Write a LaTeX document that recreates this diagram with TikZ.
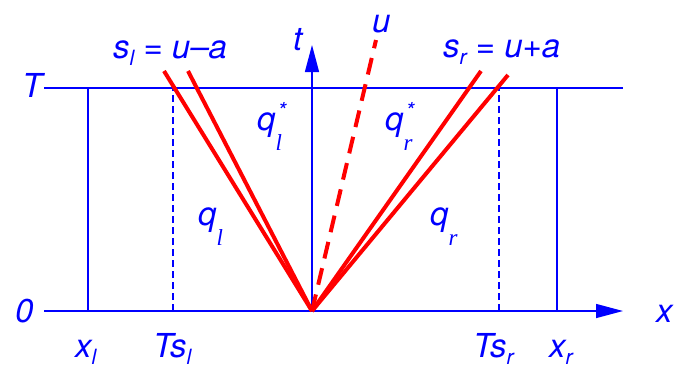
\documentclass[tikz,border=0pt]{standalone}
\usepackage{fontspec}
\setmainfont{TeX Gyre Heros}
\newfontfamily\serfont{Liberation Serif}
\usetikzlibrary{arrows.meta}
\definecolor{lblue}{RGB}{0,0,255}
\definecolor{lred}{RGB}{255,0,0}
\newcommand{\sbs}[1]{\raisebox{-7pt}{\fontsize{21}{22}\selectfont\itshape #1}}
\newcommand{\qsb}[1]{\raisebox{-20pt}{\fontsize{23}{24}\selectfont\serfont\itshape #1}}
\newcommand{\qsbst}[1]{\rlap{\hspace{2pt}\raisebox{12pt}{\fontsize{22}{24}\selectfont *}}\raisebox{-20pt}{\fontsize{23}{24}\selectfont\serfont\itshape #1}}
\begin{document}
\begin{tikzpicture}[x=1pt,y=-1pt,
  axisline/.style={lblue, line width=1.4pt},
  boxline/.style={lblue, line width=1.2pt},
  dashv/.style={lblue, line width=1.2pt, dash pattern=on 7pt off 4pt},
  wave/.style={lred, line width=4pt},
  wavedash/.style={lred, line width=4pt, dash pattern=on 17pt off 10pt},
  lbl/.style={lblue, font=\fontsize{33}{36}\selectfont\itshape, inner sep=0pt, anchor=base west},
  tip/.style={-{Triangle[length=27pt,width=14pt]}}]
\useasboundingbox (0,0) rectangle (675,368);
% coordinates
\coordinate (O) at (312,311);
\coordinate (xs) at (44,311);
\coordinate (xe) at (623,311);
\coordinate (te) at (312,45);
\coordinate (Tl) at (44,88);
\coordinate (Tr) at (623,88);
\coordinate (xlb) at (88,311);
\coordinate (xlt) at (88,88);
\coordinate (xrb) at (557,311);
\coordinate (xrt) at (557,88);
\coordinate (slb) at (173,311);
\coordinate (slt) at (173,88);
\coordinate (srb) at (499,311);
\coordinate (srt) at (499,88);
\coordinate (L1) at (164,71);
\coordinate (L2) at (188,71);
\coordinate (R1) at (481,71);
\coordinate (R2) at (508,75);
\coordinate (U) at (376,40);
% lines
\draw[boxline] (Tl) -- (Tr);
\draw[boxline] (xlb) -- (xlt);
\draw[boxline] (xrb) -- (xrt);
\draw[dashv] (slb) -- (slt);
\draw[dashv] (srb) -- (srt);
\draw[axisline,tip] (xs) -- (xe);
\draw[axisline,tip] (O) -- (te);
\draw[wave] (O) -- (L1);
\draw[wave] (O) -- (L2);
\draw[wave] (O) -- (R1);
\draw[wave] (O) -- (R2);
\draw[wavedash] (O) -- (U);
% labels
\node[lbl] (lsl) at (113,58) {s\sbs{l} = u\textendash a};
\node[lbl] (lt) at (293,50) {t};
\node[lbl] (lu) at (372,32) {u};
\node[lbl] (lsr) at (443,57) {s\sbs{r} = u+a};
\node[lbl] (lT) at (22,97) {T};
\node[lbl] (l0) at (15,322) {0};
\node[lbl] (lx) at (656,322) {x};
\node[lbl] (lxl) at (75,357) {x\sbs{l}};
\node[lbl] (lTsl) at (153,357) {Ts\sbs{l}};
\node[lbl] (lTsr) at (473,357) {Ts\sbs{r}};
\node[lbl] (lxr) at (549,357) {x\sbs{r}};
\node[lbl] (lqls) at (257,130) {q\qsbst{l}};
\node[lbl] (lqrs) at (385,130) {q\qsbst{r}};
\node[lbl] (lql) at (198,225) {q\qsb{l}};
\node[lbl] (lqr) at (430,225) {q\qsb{r}};
\end{tikzpicture}
\end{document}
